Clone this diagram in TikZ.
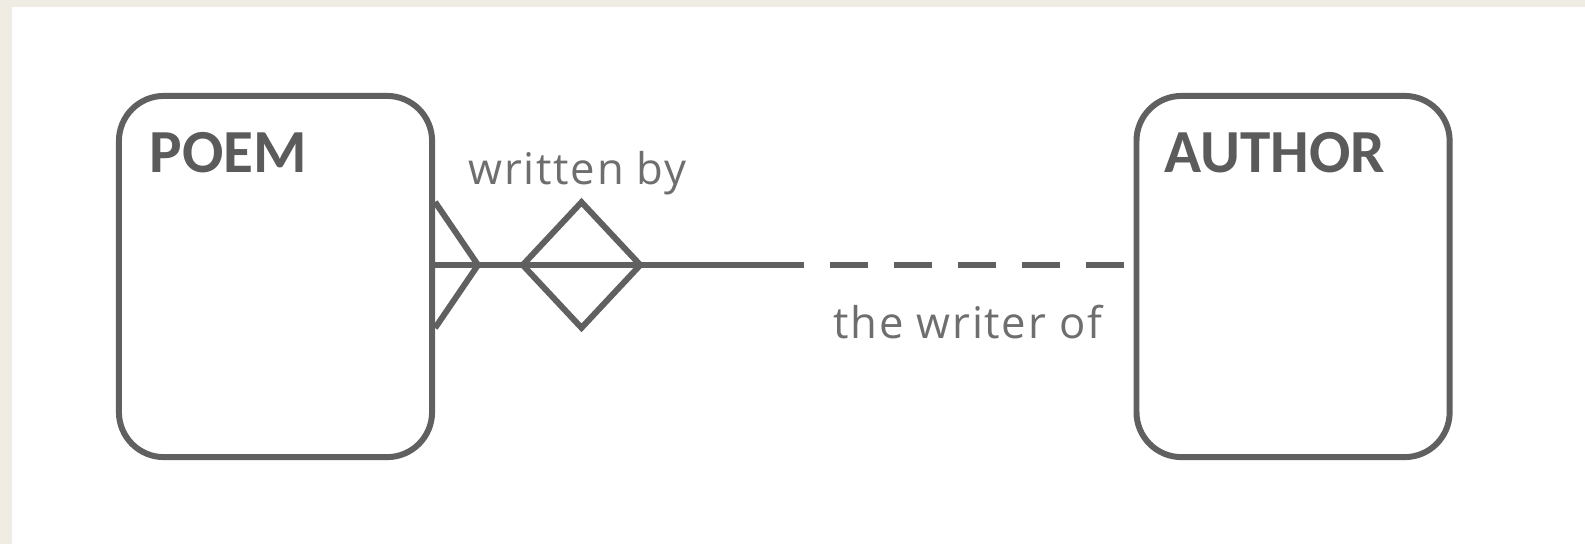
\documentclass[tikz,border=0pt]{standalone}
\usepackage{fontspec}
\setmainfont{Carlito}
\newfontfamily\lblfont[LetterSpace=4]{Open Sans}
\usepackage{tikz}
\usetikzlibrary{positioning,shapes.geometric,calc}

\definecolor{paper}{HTML}{EFECE4}
\definecolor{ink}{HTML}{606060}
\definecolor{inklight}{HTML}{6E6E6E}

\begin{document}
\begin{tikzpicture}[
    x=0.01cm, y=-0.01cm,
    entity/.style={draw=ink, line width=1.7pt, rounded corners=0.45cm, minimum width=3.13cm, minimum height=3.61cm, inner sep=0pt},
    title/.style={inner sep=0pt, text=ink!95!black, font=\fontsize{17.4pt}{20pt}\selectfont\bfseries},
    relship/.style={draw=ink, line width=1.7pt, diamond, minimum width=1.2cm, minimum height=1.28cm, inner sep=0pt},
    link/.style={draw=ink, line width=1.7pt},
    lbl/.style={inner sep=0pt, text=inklight, font=\lblfont\fontsize{12.4pt}{15pt}\selectfont}
]
\useasboundingbox (0,0) rectangle (1585,544);
\fill[paper] (0,0) rectangle (1585,544);
\fill[white] (12,7) rectangle (1585,544);

% entities
\node[entity] (poem) at (275.5,276.5) {};
\node[entity, right=6.98cm of poem] (author) {};
\node[title, below right=0.39cm and 0.33cm of poem.north west] (poemname) {POEM};
\node[title, below right=0.39cm and 0.30cm of author.north west] (authorname) {AUTHOR};

% relationship
\coordinate (foot) at (478,265);
\coordinate (mid) at (802,265);
\node[relship] (rel) at (581.5,265) {};
\draw[link] (poem.east |- mid) -- (mid);
\draw[link, dash pattern=on 0.38cm off 0.26cm, dash phase=0.36cm] (mid) -- (author.west |- mid);
\draw[link, line join=miter] ($(poem.east |- foot)+(0,-63)$) -- (foot) -- ($(poem.east |- foot)+(0,63)$);

% labels
\node[lbl, anchor=base west] (writtenby) at (468,184) {written by};
\node[lbl, anchor=base west] (writerof) at (833,338) {the writer of};
\end{tikzpicture}
\end{document}
